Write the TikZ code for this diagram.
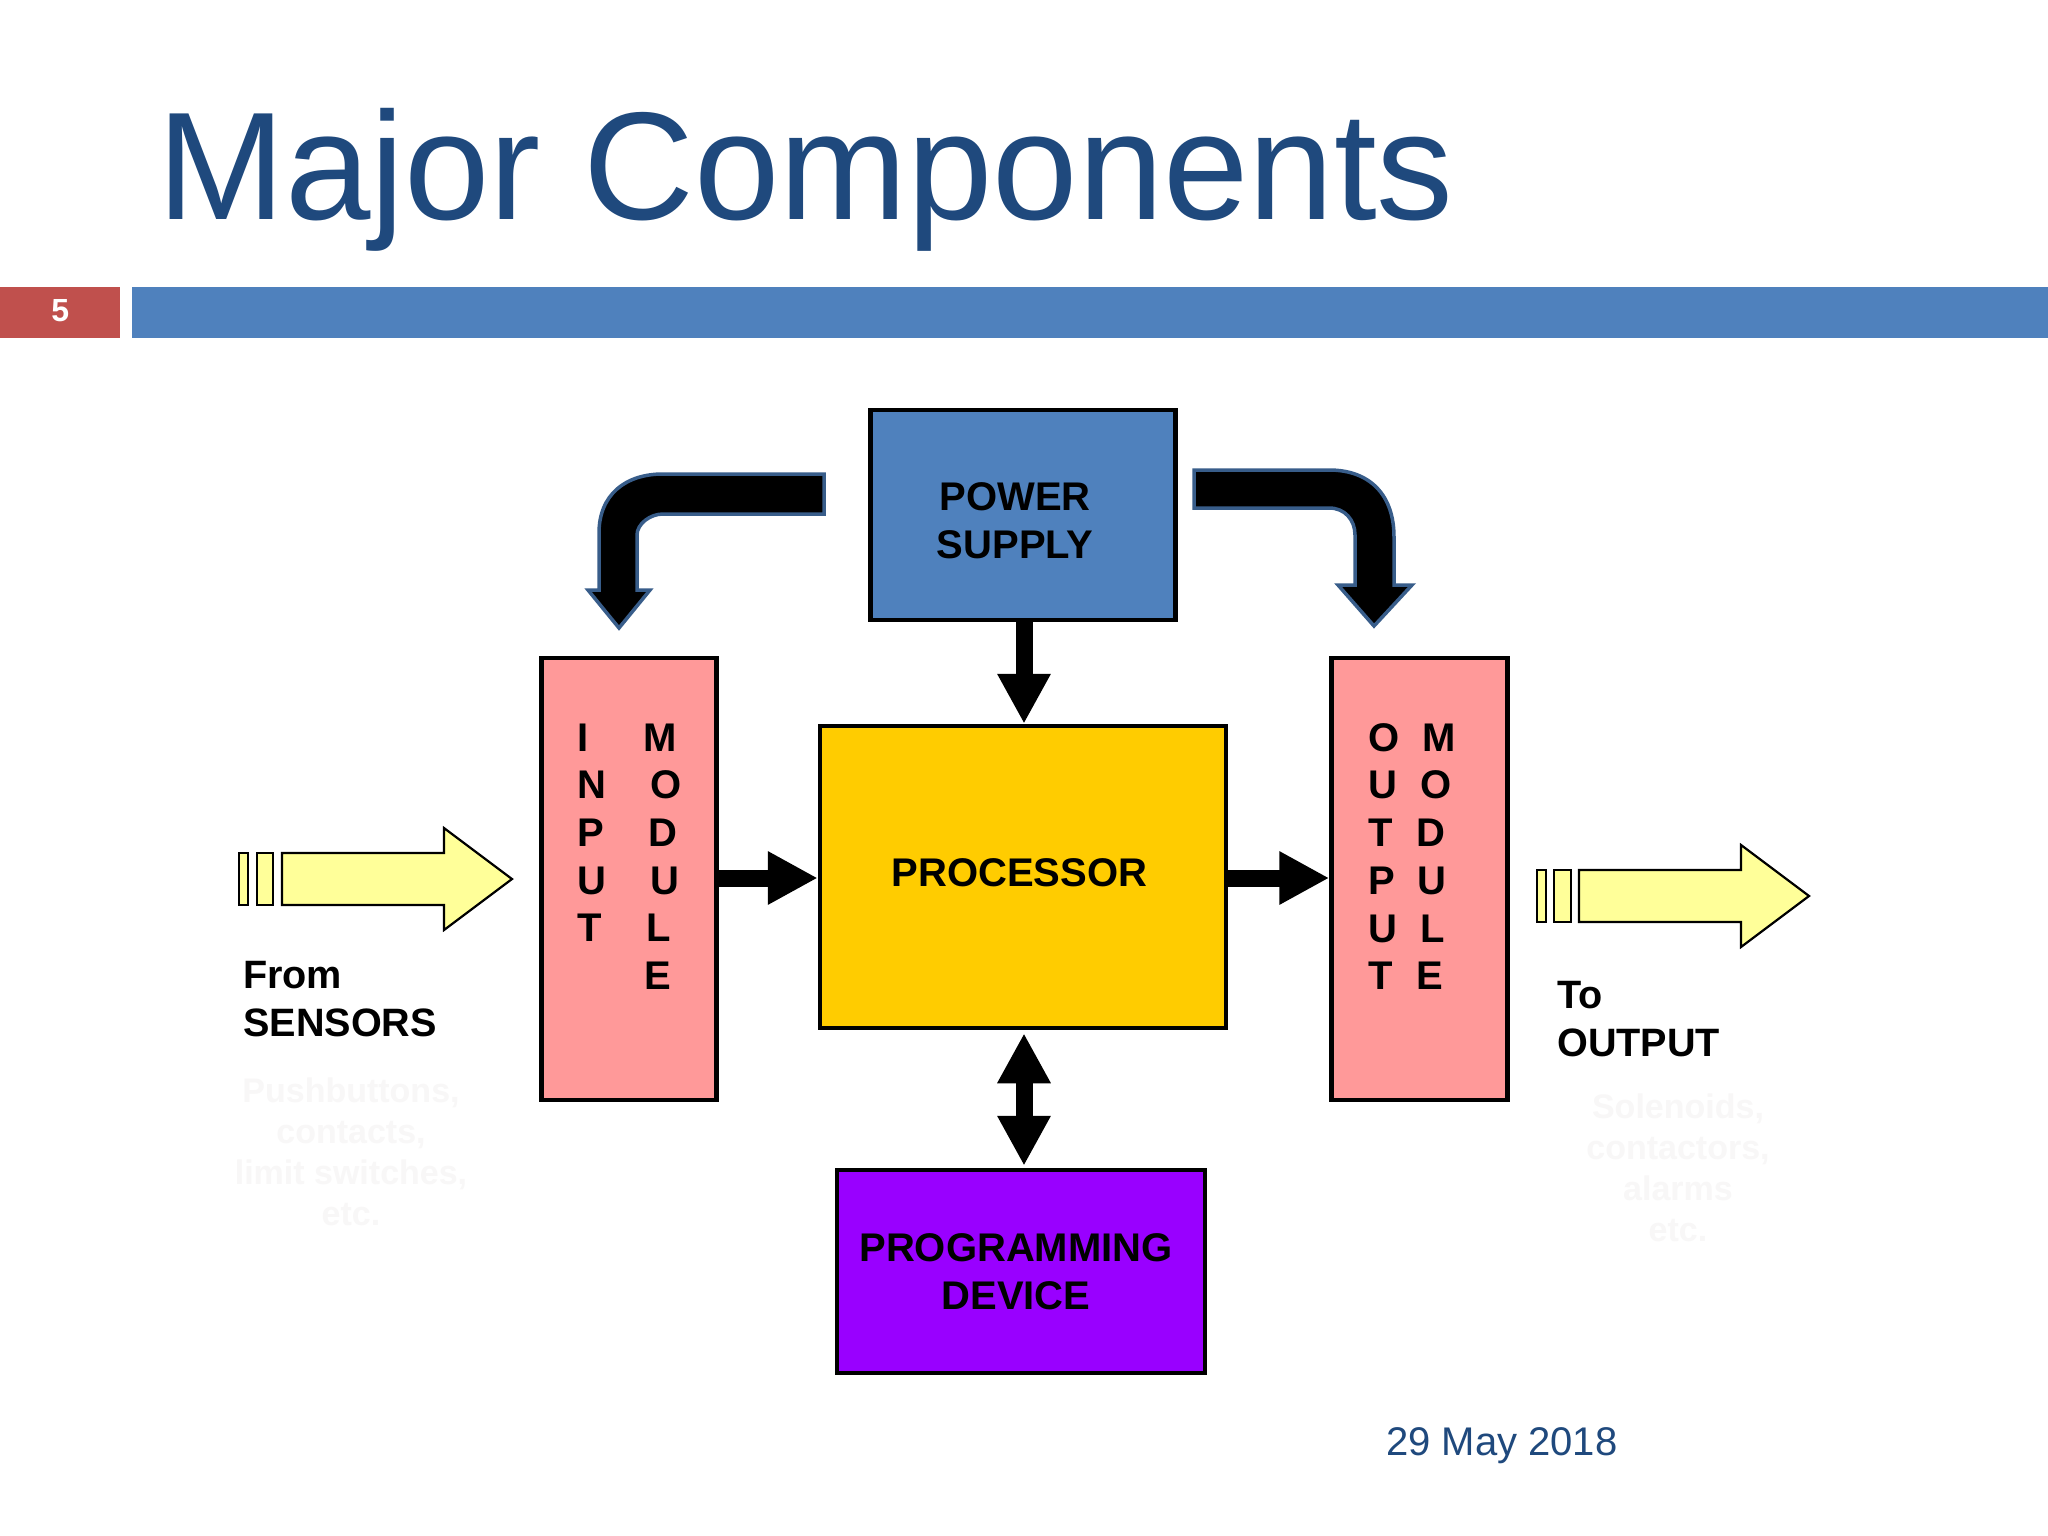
\documentclass[tikz,border=0pt]{standalone}
\usepackage{fontspec}
\setmainfont{Liberation Sans}
\usetikzlibrary{arrows.meta}
\definecolor{titleblue}{HTML}{1F497D}
\definecolor{barblue}{HTML}{4F81BD}
\definecolor{barred}{HTML}{C0504D}
\definecolor{edgeblue}{HTML}{385D8A}
\definecolor{amber}{HTML}{FFCC00}
\definecolor{salmon}{HTML}{FF9999}
\definecolor{violet2}{HTML}{9900FF}
\definecolor{paleyellow}{HTML}{FFFF99}
\definecolor{ghost}{HTML}{F8F7F7}
\tikzset{
 x=1pt,y=-1pt,
 box/.style={draw=black,line width=4.5pt,inner sep=0pt},
 boxtext/.style={inner sep=0pt,align=center,font=\bfseries\fontsize{40}{48}\selectfont},
 coltext/.style={inner sep=0pt,align=left,anchor=west,font=\bfseries\fontsize{40}{47.7}\selectfont},
 bar/.style={inner sep=0pt,minimum height=51pt,anchor=north west},
 conn/.style={line width=17pt,-{Triangle[width=50pt,length=50pt]}},
 conntwo/.style={line width=17pt,{Triangle[width=50pt,length=50pt]}-{Triangle[width=50pt,length=50pt]}},
 bent/.style={fill=black,draw=edgeblue,line width=3.5pt,line join=miter},
 yarrow/.style={fill=paleyellow,draw=black,line width=2.2pt,line join=miter},
 lab/.style={inner sep=0pt,align=left,anchor=west,font=\bfseries\fontsize{39.6}{48}\selectfont},
 faint/.style={inner sep=0pt,align=center,text=ghost,font=\bfseries\fontsize{34}{41}\selectfont},
}
\newcommand{\colrow}[3]{\makebox[#1pt][l]{#2}#3}
\begin{document}
\begin{tikzpicture}
\useasboundingbox[fill=white] (0,0) rectangle (2048,1536);
\node[inner sep=0pt,anchor=base west,text=titleblue,font=\fontsize{153.5}{153.5}\selectfont] (title) at (157,219) {Major Components};
\node[bar,fill=barred,minimum width=120pt,text=white,font=\bfseries\fontsize{32}{32}\selectfont] (num) at (0,287) {\raisebox{5pt}{5}};
\node[bar,fill=barblue,minimum width=1916pt] (rule) at (132,287) {};
\node[box,fill=barblue,minimum width=305pt,minimum height=210pt] (power) at (1023,515) {};
\node[box,fill=amber,minimum width=406pt,minimum height=302pt] (proc) at (1023,877) {};
\node[box,fill=violet2,minimum width=368pt,minimum height=203pt] (prog) at (1021,1271.5) {};
\node[box,fill=salmon,minimum width=175pt,minimum height=442pt] (input) at (629,879) {};
\node[box,fill=salmon,minimum width=176pt,minimum height=442pt] (output) at (1419.5,879) {};
\node[boxtext] (powertext) at (1015,521) {POWER\\SUPPLY};
\node[boxtext] (proctext) at (1019.5,873) {PROCESSOR};
\node[boxtext] (progtext) at (1016,1272) {PROGRAMMING\\DEVICE};
\node[coltext] (inputtext) at (577,856.5) {\colrow{66}{I}{M}\\\colrow{73}{N}{O}\\\colrow{71}{P}{D}\\\colrow{73}{U}{U}\\\colrow{69}{T}{L}\\\colrow{67}{}{E}};
\node[coltext] (outputtext) at (1368,856.5) {\colrow{54}{O}{M}\\\colrow{52}{U}{O}\\\colrow{48}{T}{D}\\\colrow{49}{P}{U}\\\colrow{52}{U}{L}\\\colrow{48}{T}{E}};
\draw[conn] (power.south) ++(1,0) -- (proc.north -| 1024,0);
\draw[conn] (input.east |- 0,878) -- (proc.west |- 0,878);
\draw[conn] (proc.east |- 0,878) -- (output.west |- 0,878);
\draw[conntwo,shorten <=3pt,shorten >=2pt] (proc.south) ++(1,0) -- (prog.north -| 1024,0);
\draw[bent] (824,474) -- (663,474) .. controls (625,474) and (599,495) .. (599,533) -- (599,590) -- (588,590) -- (619,628) -- (650,590) -- (637,590) -- (637,535) .. controls (637,524) and (650,514) .. (663,514) -- (824,514) -- cycle;
\draw[bent] (1194,470) -- (1329,470) .. controls (1370,470) and (1394,495) .. (1394,537) -- (1394,585) -- (1412,585) -- (1374,626) -- (1338,585) -- (1355,585) -- (1355,535) .. controls (1355,520) and (1345,508) .. (1329,508) -- (1194,508) -- cycle;
\draw[yarrow] (239,853) rectangle (248,905);
\draw[yarrow] (257,853) rectangle (273,905);
\draw[yarrow] (282,853) -- (444,853) -- (444,828) -- (512,879) -- (444,930) -- (444,905) -- (282,905) -- cycle;
\draw[yarrow] (1537,870) rectangle (1546,922);
\draw[yarrow] (1554,870) rectangle (1571,922);
\draw[yarrow] (1579,870) -- (1741,870) -- (1741,845) -- (1809,896) -- (1741,947) -- (1741,922) -- (1579,922) -- cycle;
\node[lab] (from) at (243,999.5) {From\\SENSORS};
\node[lab] (to) at (1557,1019.5) {To\\OUTPUT};
\node[faint] (pb) at (351,1152) {Pushbuttons,\\contacts,\\limit switches,\\etc.};
\node[faint] (sol) at (1678,1168) {Solenoids,\\contactors,\\alarms\\etc.};
\node[inner sep=0pt,anchor=base west,text=titleblue,font=\fontsize{40}{40}\selectfont] (date) at (1386,1455) {29 May 2018};
\end{tikzpicture}
\end{document}
